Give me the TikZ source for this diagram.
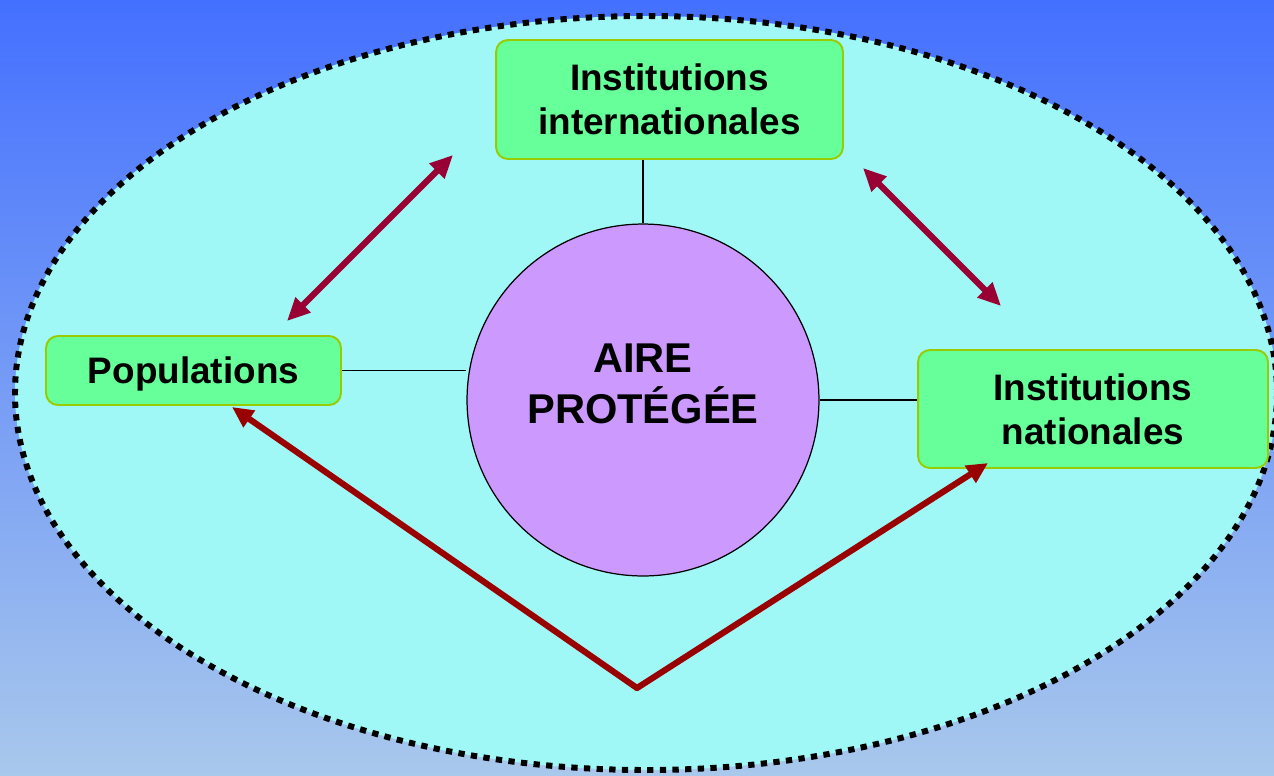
\documentclass[tikz,border=0pt]{standalone}
\usepackage{fontspec}
\setmainfont{Liberation Sans}
\usetikzlibrary{arrows.meta,calc}
\definecolor{bgtop}{RGB}{68,112,255}
\definecolor{bgbot}{RGB}{168,200,236}
\definecolor{ellfill}{RGB}{160,248,246}
\definecolor{boxfill}{RGB}{102,255,153}
\definecolor{boxline}{RGB}{153,204,0}
\definecolor{circfill}{RGB}{204,153,255}
\definecolor{arrA}{RGB}{153,0,51}
\definecolor{arrB}{RGB}{153,0,0}
\tikzset{
  boxnode/.style={draw=boxline, line width=1.1pt, fill=boxfill, rounded corners=6.8pt,
    align=center, font=\fontsize{21}{25}\selectfont\bfseries, inner sep=0pt},
  linkline/.style={draw=black, line width=0.6pt},
  dblarrow/.style={draw=arrA, line width=3.5pt, {Triangle[length=13pt,width=11.5pt]}-{Triangle[length=13pt,width=11.5pt]}},
  varrow/.style={draw=arrB, line width=3.5pt, -{Triangle[length=12pt,width=11pt]}},
}
\begin{document}
\begin{tikzpicture}[x=0.02cm,y=-0.02cm]
\useasboundingbox (0,0) rectangle (1274,775);
\shade[top color=bgtop, bottom color=bgbot] (0,0) rectangle (1274,775);
\begin{scope}
\clip (0,0) rectangle (1274,775);
\draw[fill=ellfill, line width=3.4pt, dash pattern=on 3.6pt off 3.6pt] (646,393) ellipse [x radius=631, y radius=377];
\end{scope}
\node[draw=black, line width=0.7pt, fill=circfill, circle, minimum size=7.04cm, inner sep=0pt] (circ) at (643,400) {};
\node[font=\fontsize{23.7}{29}\selectfont\bfseries, align=center, inner sep=0pt] (airetext) at (643,384) {AIRE\\PROTÉGÉE};
\node[boxnode, minimum width=6.94cm, minimum height=2.38cm, text depth=0pt] (top) at (669.5,99.5) {Institutions\\internationales};
\node[boxnode, minimum width=5.9cm, minimum height=1.38cm, text depth=0pt] (pop) at (193.5,370.5) {Populations};
\node[boxnode, minimum width=7.0cm, minimum height=2.36cm, text depth=0pt] (nat) at (1093,409) {Institutions\\nationales};
\draw[linkline] (circ.north) -- (circ.north |- top.south);
\draw[linkline] (pop.east) -- (pop.east -| circ.west);
\draw[linkline] (circ.east) -- (circ.east -| nat.west);
\coordinate (a1) at (287,321);
\coordinate (a2) at (453,155);
\coordinate (b1) at (863,168);
\coordinate (b2) at (1001,306);
\coordinate (apex) at (637,688);
\coordinate (vpop) at (232,407);
\coordinate (vnat) at (988,463);
\draw[dblarrow] (a1) -- (a2);
\draw[dblarrow] (b1) -- (b2);
\draw[varrow, line cap=round] (apex) -- (vpop);
\draw[varrow, line cap=round] (apex) -- (vnat);
\end{tikzpicture}
\end{document}
